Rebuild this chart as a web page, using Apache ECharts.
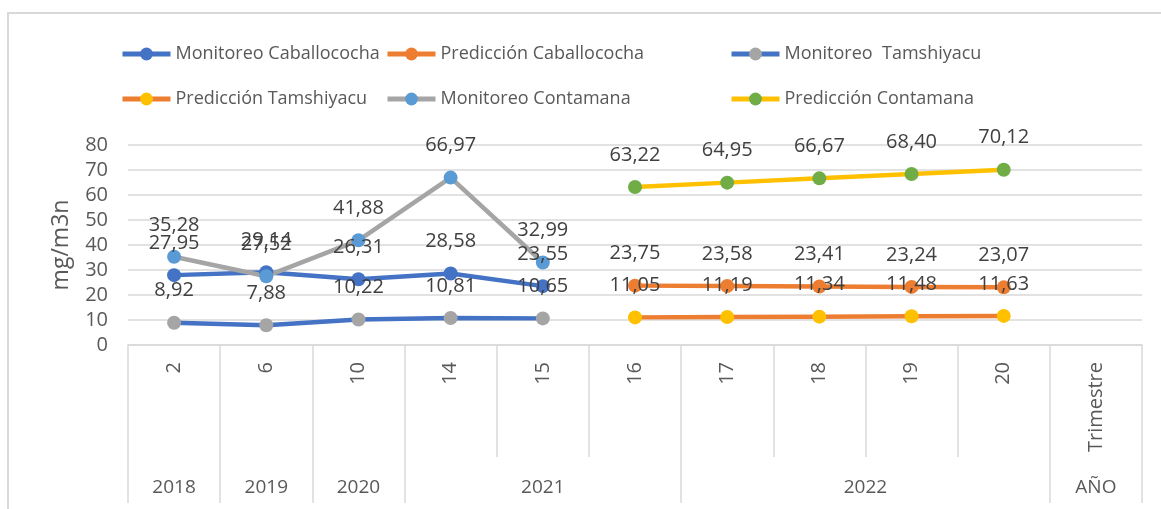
<!DOCTYPE html>
<html>
<head>
<meta charset="utf-8">
<script src="https://cdn.jsdelivr.net/npm/echarts@6/dist/echarts.min.js"></script>
<style>
    html, body { margin: 0; padding: 0; background: #fff; }
    #frame { position: absolute; left: 7px; top: 12px; width: 1160px; height: 500px; border-top: 2px solid #d9d9d9; border-left: 2px solid #d9d9d9; }
    #chart { position: absolute; left: 0; top: 0; width: 1161px; height: 509px; }
</style>
</head>
<body>
<div id="frame"></div>
<div id="chart"></div>
<script>
// categorias (trimestre) y grupos de año
var trimestres = ['2', '6', '10', '14', '15', '16', '17', '18', '19', '20', 'Trimestre'];
var anios = ['2018', '2019', '2020', '2021', '2022', 'AÑO'];
var aniosSpan = [1, 1, 1, 3, 4, 1];

var monitoreoCaballococha = [27.95, 29.14, 26.31, 28.58, 23.55, null, null, null, null, null, null];
var prediccionCaballococha = [null, null, null, null, null, 23.75, 23.58, 23.41, 23.24, 23.07, null];
var monitoreoTamshiyacu = [8.92, 7.88, 10.22, 10.81, 10.65, null, null, null, null, null, null];
var prediccionTamshiyacu = [null, null, null, null, null, 11.05, 11.19, 11.34, 11.48, 11.63, null];
var monitoreoContamana = [35.28, 27.52, 41.88, 66.97, 32.99, null, null, null, null, null, null];
var prediccionContamana = [null, null, null, null, null, 63.22, 64.95, 66.67, 68.40, 70.12, null];

var yTicks = [0, 10, 20, 30, 40, 50, 60, 70, 80];

// limites y centros de los grupos de año
var limites = [0], centros = [];
for (var i = 0; i < aniosSpan.length; i++) {
    var ini = limites[limites.length - 1];
    centros.push(ini + aniosSpan[i] / 2);
    limites.push(ini + aniosSpan[i]);
}

var txt = '#595959';
var gris = '#d9d9d9';
var fuente = '"Open Sans", "Noto Sans", sans-serif';

function serie(name, data, lineColor, markColor) {
    return {
        name: name,
        type: 'line',
        xAxisIndex: 0,
        yAxisIndex: 0,
        data: data,
        symbol: 'circle',
        symbolSize: 14,
        showAllSymbol: true,
        lineStyle: { color: lineColor, width: 4.5 },
        itemStyle: { color: markColor },
        label: {
            show: true,
            position: 'top',
            distance: 15,
            fontSize: 20,
            fontFamily: fuente,
            color: '#404040',
            formatter: function (p) {
                if (p.value == null) return '';
                return Number(p.value).toFixed(2).replace('.', ',');
            }
        },
        emphasis: { disabled: true }
    };
}

function leyenda(left, data) {
    return {
        orient: 'vertical',
        left: left,
        top: 40,
        itemWidth: 48,
        itemHeight: 16,
        itemGap: 27,
        lineStyle: { width: 5 },
        textStyle: { fontSize: 18, color: txt, fontFamily: fuente },
        data: data
    };
}

var myChart = echarts.init(document.getElementById('chart'));
var option = {
    backgroundColor: 'transparent',
    animation: false,
    textStyle: { fontFamily: fuente },
    legend: [
        leyenda(115, ['Monitoreo Caballococha', 'Predicción Tamshiyacu']),
        leyenda(380, ['Predicción Caballococha', 'Monitoreo Contamana']),
        leyenda(724, ['Monitoreo  Tamshiyacu', 'Predicción Contamana'])
    ],
    grid: [
        { left: 128, right: 19, top: 145, bottom: 164 },
        { left: 128, right: 19, top: 145, bottom: 164 }
    ],
    xAxis: [
        {
            type: 'category',
            gridIndex: 0,
            data: trimestres,
            boundaryGap: true,
            axisLine: { show: true, lineStyle: { color: gris, width: 1.5 } },
            axisTick: { show: true, interval: 0, length: 112, lineStyle: { color: gris, width: 1.5 } },
            axisLabel: { interval: 0, rotate: 90, margin: 17, fontSize: 20, color: txt, fontFamily: fuente },
            splitLine: { show: false }
        },
        {
            type: 'value',
            gridIndex: 1,
            min: 0,
            max: limites[limites.length - 1],
            position: 'bottom',
            axisLine: { show: false },
            splitLine: { show: false },
            axisTick: { show: true, customValues: limites, length: 158, lineStyle: { color: gris, width: 1.5 } },
            axisLabel: {
                show: true,
                customValues: centros,
                margin: 133,
                fontSize: 19,
                color: txt,
                fontFamily: fuente,
                formatter: function (v) {
                    for (var k = 0; k < centros.length; k++) {
                        if (Math.abs(centros[k] - v) < 1e-6) return anios[k];
                    }
                    return '';
                }
            }
        }
    ],
    yAxis: [
        {
            type: 'value',
            gridIndex: 0,
            min: yTicks[0],
            max: yTicks[yTicks.length - 1],
            interval: 10,
            name: 'mg/m3n',
            nameLocation: 'middle',
            nameGap: 55,
            nameTextStyle: { fontSize: 23, color: txt, fontFamily: fuente },
            axisLine: { show: false },
            axisTick: { show: false },
            axisLabel: { fontSize: 20, color: txt, margin: 20, fontFamily: fuente },
            splitLine: { show: true, lineStyle: { color: gris, width: 1.5 } }
        },
        {
            type: 'value',
            gridIndex: 1,
            show: false
        }
    ],
    series: [
        serie('Monitoreo Caballococha', monitoreoCaballococha, '#4472C4', '#4472C4'),
        serie('Predicción Caballococha', prediccionCaballococha, '#ED7D31', '#ED7D31'),
        serie('Monitoreo  Tamshiyacu', monitoreoTamshiyacu, '#4472C4', '#A5A5A5'),
        serie('Predicción Tamshiyacu', prediccionTamshiyacu, '#ED7D31', '#FFC000'),
        serie('Monitoreo Contamana', monitoreoContamana, '#A5A5A5', '#5B9BD5'),
        serie('Predicción Contamana', prediccionContamana, '#FFC000', '#70AD47')
    ]
};
myChart.setOption(option);
</script>
</body>
</html>
